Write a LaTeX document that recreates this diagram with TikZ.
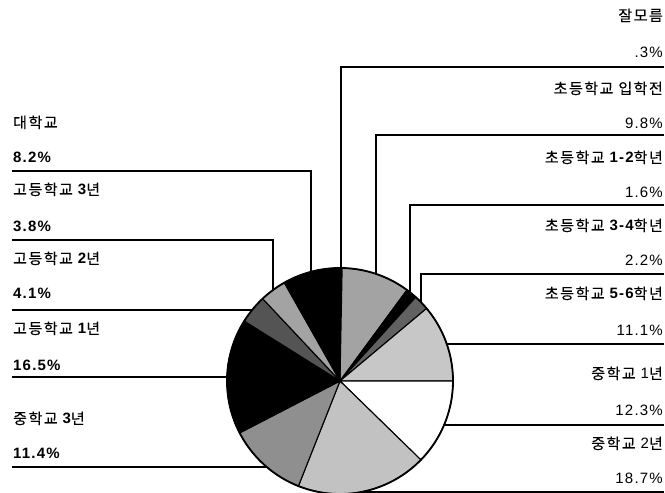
\documentclass[tikz,border=0pt]{standalone}
\usepackage{fontspec}
\setmainfont{Liberation Sans}
\newfontfamily\krf[LetterSpace=10,FakeBold=0.2]{Noto Sans CJK KR}
\newfontfamily\ltf[LetterSpace=8]{Liberation Sans}
\newcommand\K[1]{{\krf\fontsize{15}{17}\selectfont #1}}
\newcommand\D[1]{{\ltf\fontsize{15}{17}\selectfont #1}}
\newcommand\DB[1]{{\ltf\bfseries\fontsize{15}{17}\selectfont #1}}
\newcommand\SP{\hspace{5pt}}
\definecolor{gA}{gray}{0.64}
\definecolor{gB}{gray}{0.38}
\definecolor{gC}{gray}{0.78}
\definecolor{gD}{gray}{0.76}
\definecolor{gE}{gray}{0.56}
\definecolor{gF}{gray}{0.33}
\definecolor{gG}{gray}{0.64}
\begin{document}
\begin{tikzpicture}[x=1pt,y=1pt,
  rlab/.style={inner sep=0pt, anchor=base east},
  llab/.style={inner sep=0pt, anchor=base west},
  leader/.style={draw=black, line width=1.4pt},
  slice/.style={draw=black, line width=1.1pt}]
\useasboundingbox (0,0) rectangle (665,493);
\fill[white] (0,0) rectangle (665,493);
% pie
\coordinate (c) at (340,112);
\begin{scope}[shift={(340,112)}]
\foreach \a/\b/\col in {90/88.92/black, 88.92/53.64/gA, 53.64/47.88/black,
  47.88/39.96/gB, 39.96/0/gC, 0/-44.28/white, -44.28/-111.6/gD,
  -111.6/-152.64/gE, -152.64/-212.04/black, -212.04/-226.8/gF,
  -226.8/-240.48/gG, -240.48/-270/black}
  \filldraw[slice, fill=\col] (0,0) -- (\a:113pt) arc[start angle=\a, end angle=\b, radius=113pt] -- cycle;
\draw[line width=1.8pt] (0,0) circle[radius=113pt];
\end{scope}
% right labels
\node[rlab] (t0) at (663,472) {\K{잘모름}};
\node[rlab] (p0) at (663,435.5) {\D{.3\%}};
\node[rlab] (t1) at (663,399) {\K{초등학교}\SP\K{입학전}};
\node[rlab] (p1) at (663,364.5) {\D{9.8\%}};
\node[rlab] (t2) at (663,330) {\K{초등학교}\SP\DB{1-2}\K{학년}};
\node[rlab] (p2) at (663,295.5) {\D{1.6\%}};
\node[rlab] (t3) at (663,262) {\K{초등학교}\SP\DB{3-4}\K{학년}};
\node[rlab] (p3) at (663,227.5) {\D{2.2\%}};
\node[rlab] (t4) at (663,194) {\K{초등학교}\SP\DB{5-6}\K{학년}};
\node[rlab] (p4) at (663,157.5) {\D{11.1\%}};
\node[rlab] (t5) at (663,114) {\K{중학교}\SP\D{1}\K{년}};
\node[rlab] (p5) at (663,77.5) {\D{12.3\%}};
\node[rlab] (t6) at (663,44) {\K{중학교}\SP\D{2}\K{년}};
\node[rlab] (p6) at (663,9.5) {\D{18.7\%}};
% left labels
\node[llab] (t11) at (13,365) {\K{대학교}};
\node[llab] (p11) at (13,330.5) {\DB{8.2\%}};
\node[llab] (t10) at (13,298) {\K{고등학교}\SP\DB{3}\K{년}};
\node[llab] (p10) at (13,261.5) {\DB{3.8\%}};
\node[llab] (t9) at (13,229) {\K{고등학교}\SP\DB{2}\K{년}};
\node[llab] (p9) at (13,194.5) {\DB{4.1\%}};
\node[llab] (t8) at (13,159) {\K{고등학교}\SP\DB{1}\K{년}};
\node[llab] (p8) at (13,122.5) {\DB{16.5\%}};
\node[llab] (t7) at (13,69) {\K{중학교}\SP\DB{3}\K{년}};
\node[llab] (p7) at (13,34.5) {\DB{11.4\%}};
% leader coordinates (right)
\coordinate (r0) at (664,426);   \coordinate (k0) at (341,426);   \coordinate (e0) at (341,225);
\coordinate (r1) at (664,358);   \coordinate (k1) at (376,358);   \coordinate (e1) at (376,219.1);
\coordinate (r2) at (664,288);   \coordinate (k2) at (410,288);   \coordinate (e2) at (410,200.7);
\coordinate (r3) at (664,219);   \coordinate (k3) at (421,219);   \coordinate (e3) at (421,190.8);
\coordinate (r4) at (664,149);   \coordinate (e4) at (446.8,149);
\coordinate (r5) at (664,68);    \coordinate (e5) at (444.1,68);
\coordinate (r6) at (664,1);     \coordinate (e6) at (361,1);
% leader coordinates (left)
\coordinate (l11) at (12,322);   \coordinate (k11) at (311,322);  \coordinate (e11) at (311,221.2);
\coordinate (l10) at (12,253);   \coordinate (k10) at (273,253);  \coordinate (e10) at (273,203);
\coordinate (l9) at (12,183);    \coordinate (e9) at (252.1,183);
\coordinate (l8) at (12,116);    \coordinate (e8) at (227.1,116);
\coordinate (l7) at (12,26);     \coordinate (e7) at (266.7,26);
\draw[leader] (r0) -- (k0) -- (e0);
\draw[leader] (r1) -- (k1) -- (e1);
\draw[leader] (r2) -- (k2) -- (e2);
\draw[leader] (r3) -- (k3) -- (e3);
\draw[leader] (r4) -- (e4);
\draw[leader] (r5) -- (e5);
\draw[leader] (r6) -- (e6);
\draw[leader] (l11) -- (k11) -- (e11);
\draw[leader] (l10) -- (k10) -- (e10);
\draw[leader] (l9) -- (e9);
\draw[leader] (l8) -- (e8);
\draw[leader] (l7) -- (e7);
\end{tikzpicture}
\end{document}
